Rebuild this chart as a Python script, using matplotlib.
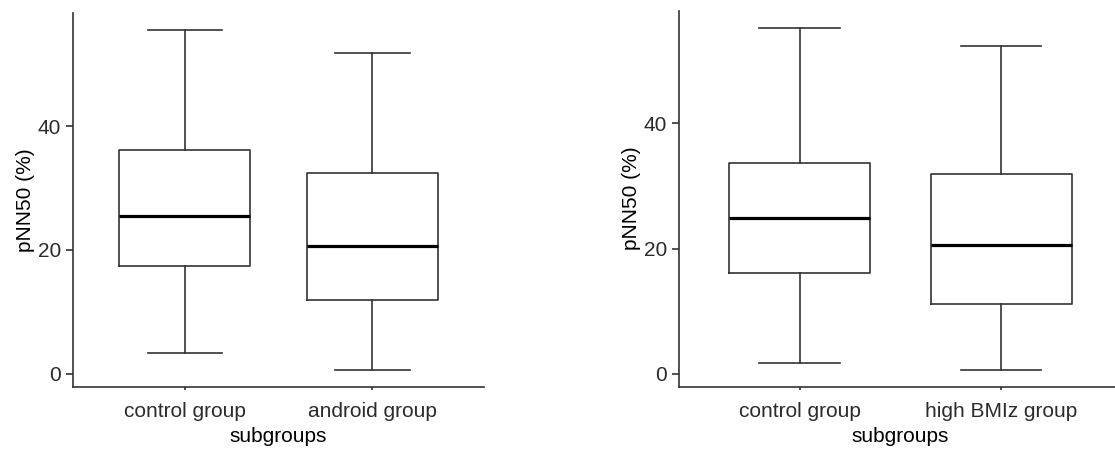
import matplotlib
matplotlib.use("Agg")
import matplotlib.pyplot as plt

plt.rcParams['font.family'] = ['Liberation Sans', 'DejaVu Sans']

# pNN50 (%) summary per subgroup: whisker ends, quartiles, median
left_groups = ['control group', 'android group']
left_whislo = [3.3, 0.65]
left_q1 = [17.35, 11.85]
left_med = [25.5, 20.55]
left_q3 = [36.15, 32.45]
left_whishi = [55.55, 51.85]

right_groups = ['control group', 'high BMIz group']
right_whislo = [1.7, 0.65]
right_q1 = [16.15, 11.15]
right_med = [24.95, 20.6]
right_q3 = [33.65, 31.95]
right_whishi = [55.3, 52.45]

yticks = [0, 20, 40]

LINE = '#333333'
TICKTXT = '#2b2b2b'
FS = 15


def draw_panel(ax, groups, lo, q1, med, q3, hi):
    stats = []
    for i in range(len(groups)):
        stats.append(dict(label=groups[i], whislo=lo[i], q1=q1[i], med=med[i],
                          q3=q3[i], whishi=hi[i], fliers=[]))
    pos = list(range(1, len(groups) + 1))
    ax.bxp(stats, positions=pos, widths=0.7, capwidths=0.4, showfliers=False,
           boxprops=dict(color=LINE, linewidth=1.2),
           whiskerprops=dict(color=LINE, linewidth=1.2),
           capprops=dict(color=LINE, linewidth=1.2),
           medianprops=dict(color='black', linewidth=2.3))
    span = max(hi) - min(lo)
    ax.set_ylim(min(lo) - 0.05 * span, max(hi) + 0.05 * span)
    ax.set_xlim(0.4, len(groups) + 0.6)
    ax.set_xticks(pos)
    ax.set_xticklabels(groups)
    ax.set_yticks(yticks)
    for s in ['top', 'right']:
        ax.spines[s].set_visible(False)
    for s in ['left', 'bottom']:
        ax.spines[s].set_color(LINE)
        ax.spines[s].set_linewidth(1.2)
    ax.tick_params(axis='y', length=5, width=1.2, color=LINE, labelcolor=TICKTXT,
                   labelsize=FS, pad=3.5)
    ax.tick_params(axis='x', length=2.5, width=1.2, color=LINE, labelcolor=TICKTXT,
                   labelsize=FS, pad=8.5)
    ax.set_xlabel('subgroups', fontsize=FS, labelpad=4, color='black')
    ax.set_ylabel('pNN50 (%)', fontsize=FS, labelpad=2, color='black')


fig = plt.figure(figsize=(11.15, 4.49), dpi=100)
ax1 = fig.add_axes([0.0652, 0.1388, 0.3692, 0.8329])
ax2 = fig.add_axes([0.6087, 0.1388, 0.3976, 0.8374])

draw_panel(ax1, left_groups, left_whislo, left_q1, left_med, left_q3, left_whishi)
draw_panel(ax2, right_groups, right_whislo, right_q1, right_med, right_q3, right_whishi)

fig.savefig('out.png', dpi=100)
